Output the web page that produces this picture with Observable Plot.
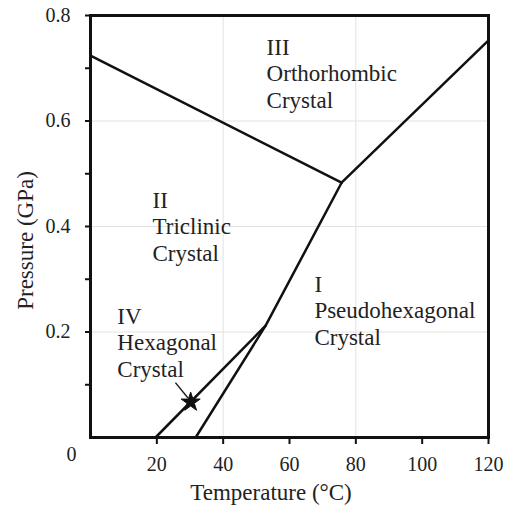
<!DOCTYPE html>
<html>
<head>
<meta charset="utf-8">
<script src="https://cdn.jsdelivr.net/npm/d3@7"></script>
<script src="https://cdn.jsdelivr.net/npm/@observablehq/plot@0.6"></script>
<style>
  html, body { margin: 0; padding: 0; background: white; }
</style>
</head>
<body>
<div id="chart"></div>
<script>
// Phase boundaries: [temperature (°C), pressure (GPa)]
const boundaryII_III = [[0, 0.724], [75.7, 0.483]];
const boundaryI_III = [[75.7, 0.483], [120, 0.753]];
const boundaryI_II = [[31.7, 0], [52.8, 0.212], [75.7, 0.483]];
const boundaryII_IV = [[19.6, 0], [52.8, 0.212]];

// Marked point and its pointer
const markerPoint = [[30.2, 0.067]];
const pointerFrom = [[25.6, 0.104]];
const pointerTo = [[29.4, 0.075]];

// Phase region labels
const phaseNames = ["III\nOrthorhombic\nCrystal", "II\nTriclinic\nCrystal", "IV\nHexagonal\nCrystal", "I\nPseudohexagonal\nCrystal"];
const phaseT = [53.1, 18.7, 8.1, 67.5];
const phaseP = [0.761, 0.471, 0.251, 0.3115];

// Axes
const xTicks = [20, 40, 60, 80, 100, 120];
const yTicks = [0.1, 0.2, 0.3, 0.4, 0.5, 0.6, 0.7, 0.8];
const yLabeled = [0.2, 0.4, 0.6, 0.8];
const gridX = [40, 80];
const gridY = [0.2, 0.4, 0.6];
const originLabel = ["0"];
const xTitle = ["Temperature (°C)"];
const yTitle = ["Pressure (GPa)"];

const boundaries = [
  ...boundaryII_III.map(([T, P]) => ({T, P, z: "II-III"})),
  ...boundaryI_III.map(([T, P]) => ({T, P, z: "I-III"})),
  ...boundaryI_II.map(([T, P]) => ({T, P, z: "I-II"})),
  ...boundaryII_IV.map(([T, P]) => ({T, P, z: "II-IV"}))
];
const labels = phaseNames.map((name, i) => ({name, T: phaseT[i], P: phaseP[i]}));
const pointer = pointerFrom.map((a, i) => ({x1: a[0], y1: a[1], x2: pointerTo[i][0], y2: pointerTo[i][1]}));

const serif = "Liberation Serif";

const chart = Plot.plot({
  width: 512,
  height: 508,
  marginLeft: 90,
  marginRight: 24,
  marginTop: 15,
  marginBottom: 71,
  x: {domain: [0, 120]},
  y: {domain: [0, 0.8]},
  style: {fontFamily: serif, background: "white", color: "#222"},
  marks: [
    Plot.gridX(gridX, {stroke: "#e2e2e2", strokeOpacity: 1, strokeWidth: 1}),
    Plot.gridY(gridY, {stroke: "#e2e2e2", strokeOpacity: 1, strokeWidth: 1}),
    Plot.axisX(xTicks, {tickSize: 7, tickPadding: 12, fontSize: 20, fontFamily: serif, label: null, stroke: "#111", strokeWidth: 2, fill: "#222"}),
    Plot.axisY(yTicks, {tickSize: 5, tickPadding: 15, fontSize: 20, fontFamily: serif, label: null, stroke: "#111", strokeWidth: 2, fill: "#222",
      tickFormat: d => yLabeled.includes(d) ? d3.format(".1f")(d) : ""}),
    Plot.text(originLabel, {x: d => 0, y: d => 0, text: d => d, fontSize: 20, fontFamily: serif, fill: "#222", textAnchor: "middle", lineAnchor: "middle", dx: -19, dy: 17}),
    Plot.line(boundaries, {x: "T", y: "P", z: "z", stroke: "#111", strokeWidth: 2.5}),
    Plot.link(pointer, {x1: "x1", y1: "y1", x2: "x2", y2: "y2", stroke: "#222", strokeWidth: 1.5}),
    Plot.dot(markerPoint, {x: d => d[0], y: d => d[1], symbol: "star", r: 6, fill: "#111", stroke: "#111", strokeWidth: 1}),
    Plot.text(labels, {x: "T", y: "P", text: "name", fontSize: 23, fontFamily: serif, lineHeight: 1.15, textAnchor: "start", lineAnchor: "top", fill: "#222"}),
    Plot.text(xTitle, {frameAnchor: "bottom", text: d => d, fontSize: 23, fontFamily: serif, fill: "#222", textAnchor: "middle", lineAnchor: "middle", dx: -18.5, dy: 55}),
    Plot.text(yTitle, {frameAnchor: "left", text: d => d, fontSize: 23, fontFamily: serif, fill: "#222", textAnchor: "middle", lineAnchor: "middle", rotate: -90, dx: -65, dy: 14}),
    Plot.frame({stroke: "#111", strokeWidth: 3})
  ]
});
document.getElementById("chart").appendChild(chart);
</script>
</body>
</html>
